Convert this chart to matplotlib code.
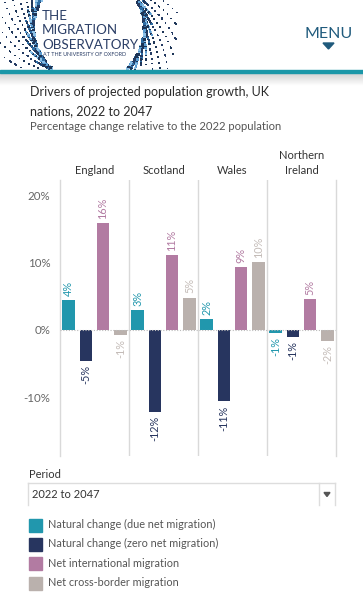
import numpy as np
import matplotlib
matplotlib.use("Agg")
import matplotlib.pyplot as plt
from matplotlib.patches import Rectangle, Polygon

plt.rcParams["font.family"] = ["Lato", "DejaVu Sans"]

# data
nations = ["England", "Scotland", "Wales", "Northern\nIreland"]
drivers = ["Natural change (due net migration)",
           "Natural change (zero net migration)",
           "Net international migration",
           "Net cross-border migration"]
natural_due = [4.4, 2.9, 1.6, -0.5]
natural_zero = [-4.6, -12.2, -10.6, -1.1]
net_international = [15.9, 11.1, 9.3, 4.6]
net_cross_border = [-0.75, 4.8, 10.1, -1.6]
labels_due = ["4%", "3%", "2%", "-1%"]
labels_zero = ["-5%", "-12%", "-11%", "-1%"]
labels_intl = ["16%", "11%", "9%", "5%"]
labels_cross = ["-1%", "5%", "10%", "-2%"]
yticks = [20, 10, 0, -10]

colors = ["#2197ad", "#27355f", "#b27ba2", "#bab1ad"]
label_colors = ["#2197ad", "#27355f", "#b27ba2", "#c4bcb8"]
W, H = 363, 600

fig = plt.figure(figsize=(W / 100, H / 100), dpi=100)

# background canvas in pixel coordinates
bg = fig.add_axes([0, 0, 1, 1])
bg.set_xlim(0, W)
bg.set_ylim(H, 0)
bg.axis("off")

# header: logo ring of dots (decoration, low-discrepancy pattern)
cx, cy, r_in, r_out = 89, 28, 55, 90
k = np.arange(2400)
u = (k * 0.41421356237) % 1.0
ang = 2 * np.pi * ((k * 0.6180339887) % 1.0)
rad = r_in + (r_out - r_in) * u ** 1.8
px = cx + rad * np.cos(ang)
py = cy + rad * np.sin(ang)
keep = (py > 0) & (py < 69)
keep &= (u < 0.45) | (k % 3 == 0)
dot_cols = np.array(["#1d3557", "#2e6da4", "#8cc0e6", "#243b63", "#5a9bd0", "#1d3557"])[k % 6]
sz = 1.2 + 3.5 * (1 - u) ** 2
bg.scatter(px[keep], py[keep], s=sz[keep], c=dot_cols[keep], marker="s", linewidths=0, zorder=2)

logo = "#2b3e66"
bg.text(42, 20.5, "THE", fontsize=9.6, color=logo, va="baseline", ha="left")
bg.text(42, 34.5, "MIGRATION", fontsize=9.6, color=logo, va="baseline", ha="left")
bg.text(42, 49, "OBSERVATORY", fontsize=9.6, color=logo, va="baseline", ha="left")
bg.text(43, 56.5, "AT THE UNIVERSITY OF OXFORD", fontsize=3.9, color=logo, va="baseline", ha="left")

bg.text(329, 38, "MENU", fontsize=11.5, color="#1f5a7c", ha="center", va="baseline")
bg.add_patch(Polygon([[323, 43], [334, 43], [328.5, 49]], closed=True, color="#1f5a7c"))

# teal rule and shadow under header
bg.add_patch(Rectangle((0, 69.5), W, 3.5, color="#1b97a8", zorder=3))
grad = np.linspace(0.82, 1.0, 20).reshape(-1, 1)
bg.imshow(grad, extent=(0, W, 86, 73), cmap="gray", vmin=0, vmax=1, aspect="auto", zorder=1)

# titles
bg.text(30, 96, "Drivers of projected population growth, UK", fontsize=9, color="#2b2b2b")
bg.text(30, 115, "nations, 2022 to 2047", fontsize=9, color="#2b2b2b")
bg.text(30, 129.5, "Percentage change relative to the 2022 population", fontsize=8.1, color="#555555")

# period dropdown
bg.text(29, 478, "Period", fontsize=8, color="#333333")
bg.plot([28, 335], [482.5, 482.5], color="#dddddd", lw=1)
bg.plot([28, 28], [482.5, 505], color="#dddddd", lw=1)
bg.plot([335, 335], [482.5, 505], color="#dddddd", lw=1)
bg.plot([319, 319], [482.5, 505], color="#dddddd", lw=1)
bg.text(32, 498.5, "2022 to 2047", fontsize=8, color="#333333")
bg.add_patch(Polygon([[324, 492.5], [330, 492.5], [327, 496.5]], closed=True, color="#555555"))

# legend
for i, (name, col) in enumerate(zip(drivers, colors)):
    y = 525 + i * 19.4
    bg.add_patch(Rectangle((29, y - 6.5), 13, 13, color=col))
    bg.text(48, y + 3, name, fontsize=7.8, color="#555555")

# main chart
ax = fig.add_axes([60 / W, 1 - 456 / H, 276 / W, 276 / H])
series = [natural_due, natural_zero, net_international, net_cross_border]
labels = [labels_due, labels_zero, labels_intl, labels_cross]
for j, (vals, labs) in enumerate(zip(series, labels)):
    xs = [i * 4 + j for i in range(len(nations))]
    ax.bar(xs, vals, width=0.73, color=colors[j], zorder=2)
    for x, v, lab in zip(xs, vals, labs):
        ax.annotate(lab, (x, v), xytext=(0, 3 if v >= 0 else -3), textcoords="offset points",
                    rotation=90, ha="center", va="bottom" if v >= 0 else "top",
                    fontsize=7.8, color=label_colors[j])

ax.set_xlim(-0.5, 15.5)
ax.set_ylim(-18.75, 22.3)
ax.axhline(0, color="#bbbbbb", lw=0.8, ls=(0, (1, 1.5)), zorder=3)
for xb in [3.5, 7.5, 11.5]:
    ax.axvline(xb, color="#d9d9d9", lw=1)
for s in ["top", "bottom"]:
    ax.spines[s].set_visible(False)
for s in ["left", "right"]:
    ax.spines[s].set_color("#d9d9d9")
    ax.spines[s].set_linewidth(1)
ax.set_xticks([])
ax.set_yticks(yticks)
ax.set_yticklabels([f"{t}%" for t in yticks], fontsize=8.3, color="#666666")
ax.tick_params(axis="y", length=0, pad=7)
ax.patch.set_alpha(0)

for i, name in enumerate(nations):
    ax.text(i * 4 + 1.5, 1.014, name, transform=ax.get_xaxis_transform(),
            ha="center", va="bottom", fontsize=8, color="#333333", linespacing=1.45)

fig.savefig("out.png", dpi=100)
